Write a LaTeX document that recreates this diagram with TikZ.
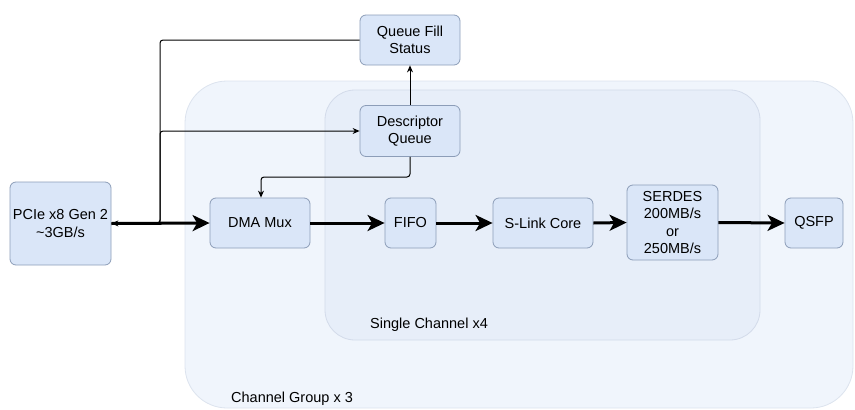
\documentclass[tikz,border=0pt]{standalone}
\usepackage{fontspec}
\setmainfont{Liberation Sans}
\usetikzlibrary{arrows.meta}
\definecolor{boxfill}{HTML}{DAE6F8}
\definecolor{boxline}{HTML}{8C9DB8}
\definecolor{outerfill}{HTML}{F0F5FC}
\definecolor{outerline}{HTML}{DCE3EE}
\definecolor{innerfill}{HTML}{E7EEF9}
\definecolor{innerline}{HTML}{D3DBEA}
\tikzset{
  blk/.style={draw=boxline, fill=boxfill, rounded corners=6pt, line width=0.8pt,
    align=center, inner sep=0pt, font=\fontsize{14.5}{17.5}\selectfont},
  thin/.style={line width=1pt, rounded corners=3pt},
  thinarrow/.style={thin, -{Stealth[length=7pt,width=6pt]}},
  thick arrow/.style={line width=3pt, -{Stealth[length=17pt,width=16pt,inset=4.5pt]}},
  lbl/.style={anchor=base west, inner sep=0pt, font=\fontsize{14.5}{17.5}\selectfont},
}
\begin{document}
\begin{tikzpicture}[x=1pt,y=-1pt]
\useasboundingbox (0,0) rectangle (855,410);
% containers
\draw[draw=outerline, fill=outerfill, line width=0.8pt, rounded corners=42pt] (185,81) rectangle (853,408);
\draw[draw=innerline, fill=innerfill, line width=0.8pt, rounded corners=30pt] (325,90) rectangle (760,340);
\node[lbl] (cg) at (231,402) {Channel Group x 3};
\node[lbl] (sc) at (370,328) {Single Channel x4};
% blocks
\node[blk, minimum width=100pt, minimum height=50pt] (qfs) at (410,40) {Queue Fill\\Status};
\node[blk, minimum width=100pt, minimum height=51pt] (dq) at (410,131) {Descriptor\\Queue};
\node[blk, minimum width=101pt, minimum height=83pt] (pcie) at (60.5,223.5) {PCIe x8 Gen 2\\\textasciitilde3GB/s};
\node[blk, minimum width=100pt, minimum height=50pt] (dma) at (260,223) {DMA Mux};
\node[blk, minimum width=51pt, minimum height=50pt] (fifo) at (410.5,223) {FIFO};
\node[blk, minimum width=100pt, minimum height=50pt] (slink) at (543,223) {S-Link Core};
\node[blk, minimum width=91pt, minimum height=75pt] (serdes) at (672.5,222.5) {SERDES\\200MB/s\\or\\250MB/s};
\node[blk, minimum width=58pt, minimum height=50pt] (qsfp) at (814,223) {QSFP};
% connectors
\coordinate (j) at (160,223);
\draw[thick arrow] (pcie.east) -- (dma.west);
\draw[thinarrow] (qfs.west) -| (j) -- (pcie.east);
\draw[thinarrow] (j) |- (dq.west);
\draw[thinarrow] (dq.north) -- (qfs.south);
\draw[thinarrow] (dq.south) |- (261,177) -- (dma.north -| 261,0);
\draw[thick arrow] (dma.east) -- (fifo.west);
\draw[thick arrow] (fifo.east) -- (slink.west);
\draw[thick arrow] (slink.east) -- (serdes.west);
\draw[thick arrow] (serdes.east) -- (qsfp.west);
\end{tikzpicture}
\end{document}
